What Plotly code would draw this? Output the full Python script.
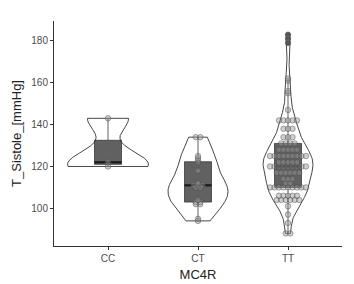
import numpy as np
import plotly.graph_objects as go

# ---- data ----
categories = ["CC", "CT", "TT"]
cc_values = [120, 122, 143]
ct_values = [94, 95, 102, 102, 103, 103, 104, 110, 110, 111, 111, 111, 112,
             118, 122, 123, 124, 125, 134, 134]
tt_values = ([88, 88, 93, 97, 101] + [104] * 6 + [106] * 5 + [110] * 9 + [112] * 2 +
             [114] * 3 + [117] * 6 + [120] * 9 + [122] * 5 + [125] * 9 + [128] * 5 +
             [131] * 4 + [134] * 3 + [138] * 3 + [142] * 5 +
             [147, 155, 156, 161, 162, 179, 181, 183])
y_ticks = [100, 120, 140, 160, 180]
x_title = "MC4R"
y_title = "T_Sistole_[mmHg]"

groups = [cc_values, ct_values, tt_values]


def bw_nrd0(v):
    v = np.asarray(v, float)
    sd = v.std(ddof=1)
    iqr = np.quantile(v, 0.75) - np.quantile(v, 0.25)
    lo = min(sd, iqr / 1.34)
    if lo == 0:
        lo = sd or abs(v[0]) or 1
    return 0.9 * lo * len(v) ** -0.2


def kde(v, n=512):
    v = np.asarray(v, float)
    bw = bw_nrd0(v)
    ys = np.linspace(v.min(), v.max(), n)
    d = np.exp(-0.5 * ((ys[:, None] - v[None, :]) / bw) ** 2).sum(1)
    d /= len(v) * bw * np.sqrt(2 * np.pi)
    return ys, d


def box_stats(v):
    v = np.asarray(v, float)
    q1, med, q3 = np.quantile(v, [0.25, 0.5, 0.75])
    iqr = q3 - q1
    inside = v[(v >= q1 - 1.5 * iqr) & (v <= q3 + 1.5 * iqr)]
    out = v[(v < q1 - 1.5 * iqr) | (v > q3 + 1.5 * iqr)]
    return q1, med, q3, inside.min(), inside.max(), out


dens = [kde(g) for g in groups]
dmax = max(d.max() for _, d in dens)

fig = go.Figure()

# boxplots (ggplot-style stats)
for i, g in enumerate(groups):
    pos = i + 1
    q1, med, q3, lo, hi, out = box_stats(g)
    fig.add_trace(go.Box(x=[pos], q1=[q1], median=[med], q3=[q3],
                         lowerfence=[lo], upperfence=[hi], width=0.3,
                         whiskerwidth=0, boxpoints=False,
                         fillcolor="rgba(92,92,92,0.97)",
                         line=dict(color="#3a3a3a", width=0.8),
                         showlegend=False, hoverinfo="skip"))

# violins (area scaling like ggplot)
for i, (ys, d) in enumerate(dens):
    pos = i + 1
    w = d / dmax * 0.45
    xs = np.concatenate([pos - w, (pos + w)[::-1], [pos - w[0]]])
    yy = np.concatenate([ys, ys[::-1], [ys[0]]])
    fig.add_trace(go.Scatter(x=xs, y=yy, mode="lines",
                             line=dict(color="#333333", width=0.9),
                             hoverinfo="skip", showlegend=False))

# medians and outliers
for i, g in enumerate(groups):
    pos = i + 1
    q1, med, q3, lo, hi, out = box_stats(g)
    fig.add_trace(go.Scatter(x=[pos - 0.15, pos + 0.15], y=[med, med], mode="lines",
                             line=dict(color="#1a1a1a", width=2.2),
                             hoverinfo="skip", showlegend=False))
    if len(out):
        fig.add_trace(go.Scatter(x=[pos] * len(out), y=out, mode="markers",
                                 marker=dict(size=5, color="#222222"),
                                 hoverinfo="skip", showlegend=False))

# centred dot stacks
dx = 0.05
for i, g in enumerate(groups):
    pos = i + 1
    vals, counts = np.unique(g, return_counts=True)
    px, py = [], []
    for v, c in zip(vals, counts):
        for k in range(c):
            px.append(pos + (k - (c - 1) / 2) * dx)
            py.append(v)
    fig.add_trace(go.Scatter(x=px, y=py, mode="markers",
                             marker=dict(size=5.5, color="rgba(150,150,150,0.45)",
                                         line=dict(color="rgba(70,70,70,0.55)", width=0.8)),
                             hoverinfo="skip", showlegend=False))

fig.update_layout(
    width=354, height=284,
    margin=dict(l=54, r=12, t=21, b=38),
    paper_bgcolor="white", plot_bgcolor="white",
    boxmode="overlay",
    font=dict(family="Liberation Sans, Arial, sans-serif", color="#000000"),
)
fig.update_xaxes(
    range=[0.4, 3.6], tickmode="array", tickvals=[1, 2, 3], ticktext=categories,
    showline=True, linecolor="#333333", linewidth=1, showgrid=False, zeroline=False,
    ticks="outside", ticklen=3, tickcolor="#333333", tickwidth=1,
    tickfont=dict(size=10, color="#4d4d4d"), automargin=False,
    title=dict(text=x_title, font=dict(size=13, color="#222222"), standoff=6),
)
fig.update_yaxes(
    range=[82, 189.5], tickmode="array", tickvals=y_ticks,
    showline=True, linecolor="#333333", linewidth=1, showgrid=False, zeroline=False,
    ticks="outside", ticklen=3, tickcolor="#333333", tickwidth=1,
    tickfont=dict(size=10, color="#4d4d4d"), automargin=False,
    title=dict(text=y_title, font=dict(size=13, color="#222222"), standoff=6),
)

fig.write_html("out.html", config={"displayModeBar": False},
               post_script="document.body.style.margin='0';")
